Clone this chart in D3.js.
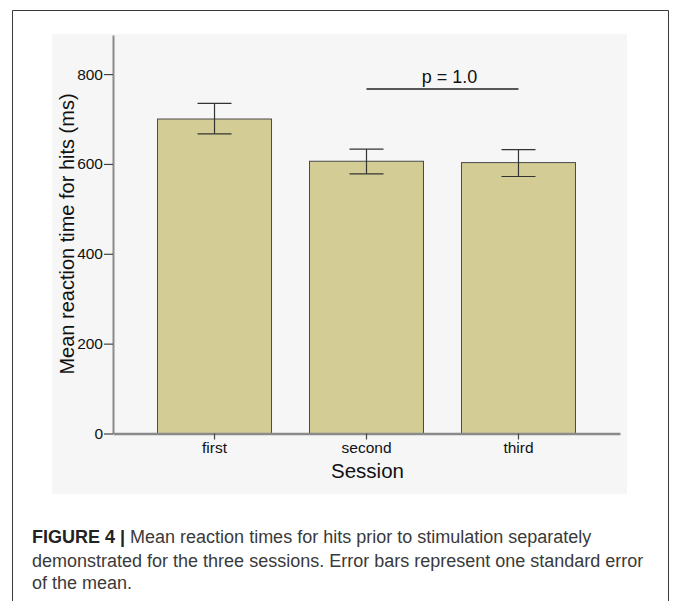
<!DOCTYPE html>
<html>
<head>
<meta charset="utf-8">
<script src="https://cdn.jsdelivr.net/npm/d3@7"></script>
<style>
  html, body { margin: 0; padding: 0; background: #fff; }
  svg { display: block; }
</style>
</head>
<body>
<div id="chart"></div>
<script>
// data
var sessions = ['first', 'second', 'third'];
var meanRT = [700, 606, 603];
var seUpper = [735, 633, 632];
var seLower = [667, 578, 572];
var yTicks = [0, 200, 400, 600, 800];
var pLabel = 'p = 1.0';
var captionLines = [
  'Mean reaction times for hits prior to stimulation separately',
  'demonstrated for the three sessions. Error bars represent one standard error',
  'of the mean.'
];

var W = 674, H = 601;
var svg = d3.select('#chart').append('svg')
  .attr('width', W)
  .attr('height', H);

// figure frame
svg.append('path')
  .attr('d', 'M12.5,' + H + 'V10.5H668.5V' + H)
  .attr('fill', 'none')
  .attr('stroke', '#3a3a3a')
  .attr('stroke-width', 1);

// plot background
svg.append('rect')
  .attr('x', 52).attr('y', 34)
  .attr('width', 575).attr('height', 460)
  .attr('fill', '#f6f6f6');

var margin = { left: 113, right: 620, top: 35, bottom: 433.5 };

// scales
var x = d3.scaleBand()
  .domain(sessions)
  .range([margin.left, margin.right])
  .paddingInner(0.25)
  .paddingOuter(0.293);
var y = d3.scaleLinear()
  .domain([0, 887])
  .range([margin.bottom, margin.top]);

// bars
svg.append('g').selectAll('rect')
  .data(sessions)
  .enter().append('rect')
  .attr('x', function (d) { return x(d); })
  .attr('y', function (d, i) { return y(meanRT[i]); })
  .attr('width', x.bandwidth())
  .attr('height', function (d, i) { return y(0) - y(meanRT[i]); })
  .attr('fill', '#d3cd95')
  .attr('stroke', '#4a4a4a')
  .attr('stroke-width', 1);

// error bars
var capW = 17;
var err = svg.append('g')
  .attr('stroke', '#333')
  .attr('stroke-width', 1.2);
sessions.forEach(function (d, i) {
  var cx = x(d) + x.bandwidth() / 2;
  err.append('line')
    .attr('x1', cx).attr('x2', cx)
    .attr('y1', y(seUpper[i])).attr('y2', y(seLower[i]));
  err.append('line')
    .attr('x1', cx - capW).attr('x2', cx + capW)
    .attr('y1', y(seUpper[i])).attr('y2', y(seUpper[i]));
  err.append('line')
    .attr('x1', cx - capW).attr('x2', cx + capW)
    .attr('y1', y(seLower[i])).attr('y2', y(seLower[i]));
});

var font = 'Liberation Sans, Arial, sans-serif';

// y axis
var yAxis = svg.append('g')
  .attr('transform', 'translate(' + margin.left + ',0)')
  .call(d3.axisLeft(y).tickValues(yTicks).tickSize(9).tickPadding(1).tickSizeOuter(0));
yAxis.select('.domain').attr('stroke', '#8a8a8a').attr('stroke-width', 2);
yAxis.selectAll('.tick line').attr('stroke', '#444').attr('stroke-width', 1.2);
yAxis.selectAll('.tick text')
  .attr('font-family', font)
  .attr('font-size', 15.5)
  .attr('fill', '#111');

// x axis
var xAxis = svg.append('g')
  .attr('transform', 'translate(0,' + margin.bottom + ')')
  .call(d3.axisBottom(x).tickSize(6).tickPadding(2).tickSizeOuter(0));
xAxis.select('.domain').attr('stroke', '#8a8a8a').attr('stroke-width', 2.5);
xAxis.selectAll('.tick line').attr('stroke', '#444').attr('stroke-width', 1.2);
xAxis.selectAll('.tick text')
  .attr('font-family', font)
  .attr('font-size', 15.5)
  .attr('fill', '#111');

// axis titles
svg.append('text')
  .attr('x', (margin.left + margin.right) / 2 + 1).attr('y', 478)
  .attr('text-anchor', 'middle')
  .attr('font-family', font)
  .attr('font-size', 20.5)
  .attr('fill', '#111')
  .text('Session');
svg.append('text')
  .attr('transform', 'translate(74,234) rotate(-90)')
  .attr('text-anchor', 'middle')
  .attr('font-family', font)
  .attr('font-size', 20)
  .attr('fill', '#111')
  .text('Mean reaction time for hits (ms)');

// significance bracket between second and third
var p1 = x('second') + x.bandwidth() / 2;
var p2 = x('third') + x.bandwidth() / 2;
svg.append('line')
  .attr('x1', p1).attr('x2', p2)
  .attr('y1', 89).attr('y2', 89)
  .attr('stroke', '#222').attr('stroke-width', 1.3);
svg.append('text')
  .attr('x', (p1 + p2) / 2 + 7).attr('y', 83)
  .attr('text-anchor', 'middle')
  .attr('font-family', font)
  .attr('font-size', 18)
  .attr('fill', '#111')
  .text(pLabel);

// caption
var cap = svg.append('g')
  .attr('font-family', font)
  .attr('font-size', 18)
  .attr('fill', '#3a3a3a');
var first = cap.append('text').attr('x', 32).attr('y', 543);
first.append('tspan').attr('font-weight', 'bold').attr('fill', '#222').text('FIGURE 4 |');
first.append('tspan').text(' ' + captionLines[0]);
cap.append('text').attr('x', 32).attr('y', 567).text(captionLines[1]);
cap.append('text').attr('x', 32).attr('y', 589).text(captionLines[2]);
</script>
</body>
</html>
